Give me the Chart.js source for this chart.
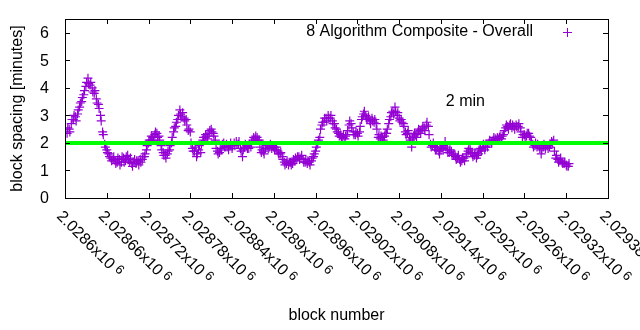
<!DOCTYPE html>
<html>
<head>
<meta charset="utf-8">
<script src="https://cdn.jsdelivr.net/npm/chart.js@4.4.0/dist/chart.umd.min.js"></script>
<style>
  html, body { margin: 0; padding: 0; background: #fff; }
  #wrap { width: 640px; height: 330px; }
</style>
</head>
<body>
<div id="wrap"><canvas id="c" width="640" height="330"></canvas></div>
<script>
// Block spacing, two interleaved sample runs: run A at firstBlock + 3i,
// run B one block later (firstBlock + 1 + 3i)
const firstBlock = 2028603;
const blockStep = 3;
const runBOffset = 1;
const spacingMinutesA = [
  2.35, 2.5, 2.7, 2.85, 2.95, 3.05, 3.3, 3.5, 3.75, 4.05,
  4.35, 4.1, 4.0, 3.8, 3.6, 3.4, 3.0, 2.4, 1.95, 1.75,
  1.6, 1.45, 1.4, 1.35, 1.3, 1.4, 1.3, 1.45, 1.35, 1.55,
  1.3, 1.25, 1.3, 1.25, 1.35, 1.4, 1.4, 1.5, 1.75, 2.0,
  2.1, 2.2, 2.3, 2.35, 2.25, 1.9, 1.65, 1.55, 1.6, 1.75,
  2.0, 2.4, 2.6, 2.85, 3.2, 2.95, 2.9, 2.85, 2.45, 2.4,
  1.8, 1.7, 1.5, 1.75, 1.65, 2.1, 2.2, 2.25, 2.35, 2.5,
  2.35, 2.1, 1.7, 1.65, 1.75, 2.0, 1.85, 1.85, 1.9, 1.8,
  2.0, 2.05, 1.95, 1.8, 1.5, 1.85, 1.9, 1.8, 1.85, 2.1,
  2.15, 2.2, 2.1, 1.65, 1.7, 1.8, 1.9, 1.85, 1.8, 1.85,
  1.75, 1.7, 1.6, 1.5, 1.3, 1.25, 1.2, 1.3, 1.25, 1.35,
  1.4, 1.5, 1.45, 1.4, 1.3, 1.25, 1.3, 1.35, 1.5, 1.7,
  1.95, 2.2, 2.65, 2.75, 2.9, 3.0, 2.9, 2.8, 2.7, 2.5,
  2.35, 2.3, 2.2, 2.15, 2.3, 2.65, 2.7, 2.4, 2.3, 2.35,
  2.4, 2.85, 3.05, 3.0, 2.85, 2.8, 2.9, 2.75, 2.7, 2.2,
  2.15, 2.2, 2.25, 2.35, 2.7, 2.95, 3.15, 3.3, 3.0, 2.9,
  2.85, 2.7, 2.4, 2.35, 2.2, 1.85, 2.25, 2.3, 2.4, 2.45,
  2.5, 2.55, 2.65, 2.6, 1.95, 1.9, 1.85, 1.75, 1.7, 1.75,
  1.8, 2.05, 1.75, 1.65, 1.7, 1.55, 1.5, 1.45, 1.4, 1.35,
  1.45, 1.5, 1.7, 1.75, 1.6, 1.55, 1.45, 1.6, 1.8, 1.85,
  1.75, 1.95, 2.0, 2.05, 2.1, 2.15, 2.2, 2.2, 2.15, 2.3,
  2.55, 2.6, 2.65, 2.55, 2.6, 2.65, 2.6, 2.55, 2.2, 2.3,
  2.25, 2.35, 2.2, 1.95, 1.9, 1.85, 1.9, 1.6, 1.85, 1.8,
  1.9, 1.85, 2.05, 2.1, 1.45, 1.4, 1.35, 1.3, 1.25, 1.2,
  1.15
];
const spacingMinutesB = [
  2.55, 2.4, 2.85, 3.0, 2.8, 3.2, 3.45, 3.65, 3.9, 4.2,
  4.15, 4.2, 3.85, 3.9, 3.45, 3.25, 2.8, 2.3, 1.85, 1.65,
  1.5, 1.35, 1.5, 1.25, 1.45, 1.2, 1.5, 1.3, 1.5, 1.4,
  1.45, 1.15, 1.4, 1.35, 1.2, 1.3, 1.5, 1.6, 1.9, 2.1,
  2.25, 2.1, 2.4, 2.2, 2.1, 1.75, 1.55, 1.45, 1.7, 1.9,
  2.2, 2.55, 2.75, 3.0, 3.05, 3.1, 2.8, 2.65, 2.5, 2.0,
  1.7, 1.85, 1.6, 1.9, 1.95, 2.2, 2.3, 2.15, 2.45, 2.4,
  2.25, 1.8, 1.6, 1.8, 1.95, 1.85, 1.95, 1.75, 2.0, 1.9,
  1.9, 1.95, 2.05, 1.7, 1.75, 1.95, 1.8, 1.95, 2.0, 2.2,
  2.25, 2.1, 1.85, 1.75, 1.6, 1.9, 1.8, 1.95, 1.9, 1.75,
  1.85, 1.6, 1.65, 1.4, 1.2, 1.35, 1.3, 1.2, 1.4, 1.45,
  1.5, 1.4, 1.55, 1.3, 1.4, 1.35, 1.2, 1.45, 1.6, 1.85,
  2.1, 2.5, 2.75, 2.9, 2.8, 2.9, 3.0, 2.7, 2.55, 2.4,
  2.25, 2.2, 2.3, 2.25, 2.45, 2.8, 2.55, 2.3, 2.4, 2.25,
  2.6, 2.95, 3.15, 2.9, 2.95, 2.7, 2.8, 2.85, 2.5, 2.3,
  2.25, 2.1, 2.35, 2.5, 2.85, 3.1, 3.05, 3.15, 3.1, 2.8,
  2.75, 2.6, 2.3, 2.45, 2.1, 2.15, 2.35, 2.2, 2.5, 2.35,
  2.6, 2.45, 2.75, 2.3, 1.85, 2.0, 1.75, 1.85, 1.6, 1.85,
  1.9, 1.85, 1.65, 1.75, 1.55, 1.6, 1.4, 1.55, 1.3, 1.45,
  1.35, 1.6, 1.8, 1.65, 1.5, 1.65, 1.55, 1.75, 1.7, 1.95,
  1.85, 1.85, 2.1, 2.0, 2.2, 2.1, 2.15, 2.25, 2.25, 2.45,
  2.65, 2.5, 2.7, 2.65, 2.5, 2.6, 2.7, 2.4, 2.3, 2.2,
  2.35, 2.25, 2.05, 1.85, 2.0, 1.95, 1.8, 1.75, 1.95, 1.9,
  1.8, 1.95, 2.0, 1.7, 1.55, 1.3, 1.45, 1.25, 1.3, 1.15,
  1.25
];

// Axis ticks
const xTickValues = [2028600, 2028660, 2028720, 2028780, 2028840, 2028900, 2028960,
                     2029020, 2029080, 2029140, 2029200, 2029260, 2029320, 2029380];
const xTickMantissas = ['2.0286', '2.02866', '2.02872', '2.02878', '2.02884', '2.0289', '2.02896',
                        '2.02902', '2.02908', '2.02914', '2.0292', '2.02926', '2.02932', '2.02938'];
const xTickExponent = '6';
const yTickValues = [0, 1, 2, 3, 4, 5, 6];

// Reference level and text
const targetMinutes = 2;
const seriesLabel = '8 Algorithm Composite - Overall';
const targetLabel = '2 min';
const targetLabelBlock = 2029147;
const targetLabelMinutes = 3.5;
const xTitle = 'block number';
const yTitle = 'block spacing [minutes]';

const FONT = '"Liberation Sans", Arial, sans-serif';
const PURPLE = '#9400d3';
const GREEN = '#00ff00';

const points = [];
spacingMinutesA.forEach((v, i) => points.push({ x: firstBlock + i * blockStep, y: v }));
spacingMinutesB.forEach((v, i) => points.push({ x: firstBlock + runBOffset + i * blockStep, y: v }));
const xMin = xTickValues[0];
const xMax = xTickValues[xTickValues.length - 1];

// Frame, inward ticks, tick labels, titles and key
const framePlugin = {
  id: 'frame',
  afterDraw(chart) {
    const { ctx, chartArea: a, scales: { x, y } } = chart;
    const tl = 5;
    ctx.save();
    ctx.strokeStyle = '#000';
    ctx.lineWidth = 1;
    ctx.strokeRect(a.left + 0.5, a.top + 0.5, a.right - a.left, a.bottom - a.top);

    ctx.beginPath();
    xTickValues.forEach(v => {
      const px = Math.round(x.getPixelForValue(v)) + 0.5;
      ctx.moveTo(px, a.bottom); ctx.lineTo(px, a.bottom - tl);
      ctx.moveTo(px, a.top); ctx.lineTo(px, a.top + tl);
    });
    yTickValues.forEach(v => {
      const py = Math.round(y.getPixelForValue(v)) + 0.5;
      ctx.moveTo(a.left, py); ctx.lineTo(a.left + tl, py);
      ctx.moveTo(a.right, py); ctx.lineTo(a.right - tl, py);
    });
    ctx.stroke();

    ctx.fillStyle = '#000';
    ctx.font = '16px ' + FONT;
    // y tick labels
    ctx.textAlign = 'right';
    ctx.textBaseline = 'middle';
    yTickValues.forEach(v => ctx.fillText(String(v), a.left - 16, y.getPixelForValue(v) + 1));

    // x tick labels, rotated clockwise, starting at each tick
    xTickValues.forEach((v, i) => {
      const px = x.getPixelForValue(v);
      ctx.save();
      ctx.translate(px - 6, a.bottom + 16);
      ctx.rotate(Math.PI / 4);
      ctx.font = '16px ' + FONT;
      ctx.textAlign = 'left';
      ctx.textBaseline = 'middle';
      const base = xTickMantissas[i] + 'x10';
      ctx.fillText(base, 0, 0);
      const w = ctx.measureText(base).width;
      ctx.font = '13px ' + FONT;
      ctx.fillText(xTickExponent, w + 4, -3);
      ctx.restore();
    });

    ctx.font = '16px ' + FONT;
    ctx.textAlign = 'center';
    ctx.textBaseline = 'middle';
    ctx.fillText(xTitle, (a.left + a.right) / 2, 316);
    ctx.save();
    ctx.translate(18, (a.top + a.bottom) / 2);
    ctx.rotate(-Math.PI / 2);
    ctx.fillText(yTitle, 0, 0);
    ctx.restore();

    // key
    ctx.textAlign = 'right';
    ctx.fillText(seriesLabel, 533, 32);
    ctx.strokeStyle = PURPLE;
    ctx.beginPath();
    ctx.moveTo(563, 32.5); ctx.lineTo(572, 32.5);
    ctx.moveTo(567.5, 28); ctx.lineTo(567.5, 37);
    ctx.stroke();

    // annotation for the target level
    ctx.textAlign = 'left';
    ctx.fillText(targetLabel, x.getPixelForValue(targetLabelBlock), y.getPixelForValue(targetLabelMinutes));
    ctx.restore();
  }
};

new Chart(document.getElementById('c'), {
  type: 'scatter',
  data: {
    datasets: [
      {
        label: seriesLabel,
        data: points,
        pointStyle: 'cross',
        pointRadius: 4.5,
        pointBorderWidth: 1.2,
        borderColor: PURPLE,
        backgroundColor: PURPLE,
        showLine: false,
        order: 1
      },
      {
        label: targetLabel,
        data: [{ x: xMin, y: targetMinutes }, { x: xMax, y: targetMinutes }],
        showLine: true,
        borderColor: GREEN,
        borderWidth: 4,
        pointRadius: 0,
        order: 0
      }
    ]
  },
  options: {
    responsive: false,
    devicePixelRatio: 1,
    animation: false,
    layout: { padding: { left: 0, right: 32, top: 19, bottom: 0 } },
    plugins: { legend: { display: false }, tooltip: { enabled: false } },
    scales: {
      x: {
        type: 'linear',
        min: xMin,
        max: xMax,
        ticks: { display: false },
        grid: { display: false, drawTicks: false },
        border: { display: false },
        afterFit(s) { s.height = 132; }
      },
      y: {
        min: 0,
        max: 6.5,
        ticks: { display: false },
        grid: { display: false, drawTicks: false },
        border: { display: false },
        afterFit(s) { s.width = 65; }
      }
    }
  },
  plugins: [framePlugin]
});
</script>
</body>
</html>
